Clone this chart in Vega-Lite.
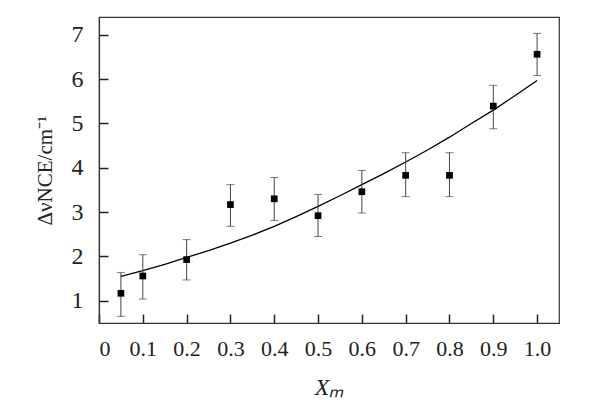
{
  "$schema": "https://vega.github.io/schema/vega-lite/v6.json",
  "width": 460,
  "height": 306,
  "autosize": {"type": "none"},
  "padding": {"left": 99, "top": 17, "right": 46, "bottom": 77},
  "background": "white",
  "config": {
    "view": {"stroke": "#333", "strokeWidth": 1.2},
    "axis": {
      "grid": false,
      "domainColor": "#333",
      "domainWidth": 1.2,
      "tickColor": "#222",
      "tickWidth": 1.5,
      "labelFont": "Times New Roman, Liberation Serif, serif",
      "titleFont": "Times New Roman, Liberation Serif, serif",
      "labelColor": "#222",
      "titleColor": "#222",
      "titleFontWeight": "normal"
    }
  },
  "datasets": {
    "pts": [
      {"x": 0.05, "y": 1.17, "lo": 0.65, "hi": 1.64},
      {"x": 0.1, "y": 1.56, "lo": 1.04, "hi": 2.04},
      {"x": 0.2, "y": 1.93, "lo": 1.47, "hi": 2.38},
      {"x": 0.3, "y": 3.17, "lo": 2.68, "hi": 3.62},
      {"x": 0.4, "y": 3.30, "lo": 2.81, "hi": 3.78},
      {"x": 0.5, "y": 2.92, "lo": 2.45, "hi": 3.40},
      {"x": 0.6, "y": 3.46, "lo": 2.98, "hi": 3.94},
      {"x": 0.7, "y": 3.83, "lo": 3.35, "hi": 4.34},
      {"x": 0.8, "y": 3.83, "lo": 3.35, "hi": 4.34},
      {"x": 0.9, "y": 5.39, "lo": 4.88, "hi": 5.86},
      {"x": 1.0, "y": 6.56, "lo": 6.08, "hi": 7.03}
    ],
    "fit": [
      {"x": 0.05, "y": 1.55},
      {"x": 0.1, "y": 1.68},
      {"x": 0.15, "y": 1.82},
      {"x": 0.2, "y": 1.98},
      {"x": 0.25, "y": 2.13},
      {"x": 0.3, "y": 2.3},
      {"x": 0.35, "y": 2.48},
      {"x": 0.4, "y": 2.68},
      {"x": 0.45, "y": 2.9},
      {"x": 0.5, "y": 3.13},
      {"x": 0.55, "y": 3.37},
      {"x": 0.6, "y": 3.62},
      {"x": 0.65, "y": 3.87},
      {"x": 0.7, "y": 4.13},
      {"x": 0.75, "y": 4.4},
      {"x": 0.8, "y": 4.69},
      {"x": 0.85, "y": 5.0},
      {"x": 0.9, "y": 5.3},
      {"x": 0.95, "y": 5.63},
      {"x": 1.0, "y": 5.97}
    ]
  },
  "layer": [
    {
      "data": {"name": "fit"},
      "mark": {"type": "line", "color": "#000", "strokeWidth": 1.3},
      "encoding": {
        "x": {
          "field": "x", "type": "quantitative", "title": "Xₘ",
          "scale": {"domain": [0, 1.05], "nice": false, "zero": false},
          "axis": {
            "values": [0, 0.1, 0.2, 0.3, 0.4, 0.5, 0.6, 0.7, 0.8, 0.9, 1.0],
            "labelExpr": "datum.value == 0 ? '0' : format(datum.value, '.1f')",
            "tickSize": -9,
            "labelPadding": 24,
            "labelFontSize": 22,
            "titleFontSize": 24,
            "titleFontStyle": "italic",
            "titlePadding": 16
          }
        },
        "y": {
          "field": "y", "type": "quantitative", "title": "ΔνNCE/cm⁻¹",
          "scale": {"domain": [0.5, 7.4], "nice": false, "zero": false},
          "axis": {
            "values": [1, 2, 3, 4, 5, 6, 7],
            "tickSize": -9,
            "labelPadding": 25,
            "labelFontSize": 24,
            "titleFontSize": 21,
            "titlePadding": 16
          }
        }
      }
    },
    {
      "data": {"name": "pts"},
      "mark": {"type": "errorbar", "ticks": {"size": 8, "color": "#444", "strokeWidth": 1}, "rule": {"color": "#444", "strokeWidth": 1}},
      "encoding": {
        "x": {"field": "x", "type": "quantitative", "title": "Xₘ"},
        "y": {"field": "lo", "type": "quantitative", "title": "ΔνNCE/cm⁻¹"},
        "y2": {"field": "hi"}
      }
    },
    {
      "data": {"name": "pts"},
      "mark": {"type": "square", "filled": true, "color": "#000", "size": 45, "opacity": 1},
      "encoding": {
        "x": {"field": "x", "type": "quantitative", "title": "Xₘ"},
        "y": {"field": "y", "type": "quantitative", "title": "ΔνNCE/cm⁻¹"}
      }
    }
  ]
}
